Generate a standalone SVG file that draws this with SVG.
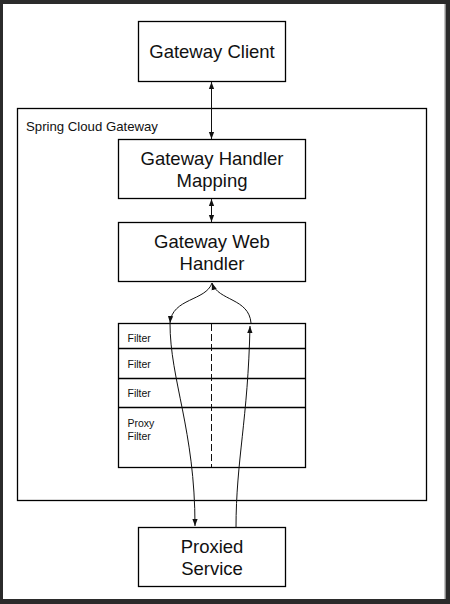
<svg xmlns="http://www.w3.org/2000/svg" width="450" height="604" viewBox="0 0 450 604">
<style>
.box{fill:#fff;stroke:#000;stroke-width:1.3}
.big{font-family:"Liberation Sans",Arial,sans-serif;font-size:18.5px;fill:#111;text-anchor:middle}
.small{font-family:"Liberation Sans",Arial,sans-serif;font-size:10.5px;fill:#111}
.lbl{font-family:"Liberation Sans",Arial,sans-serif;font-size:13.2px;fill:#111}
.ln{fill:none;stroke:#111;stroke-width:1}
</style>
<defs>
<marker id="ah" viewBox="0 0 8 8" refX="8" refY="4" markerWidth="7" markerHeight="7" markerUnits="userSpaceOnUse" orient="auto">
<path d="M0,1 L8,4 L0,7 Z" fill="#111"/>
</marker>
<marker id="ahs" viewBox="0 0 8 8" refX="0" refY="4" markerWidth="7" markerHeight="7" markerUnits="userSpaceOnUse" orient="auto">
<path d="M8,1 L0,4 L8,7 Z" fill="#111"/>
</marker>
</defs>
<rect x="0" y="0" width="450" height="604" fill="#2b2b2b"/>
<rect x="444" y="4" width="2" height="595" fill="#8a8a8a"/>
<rect x="3" y="4" width="441.5" height="595" fill="#fff"/>

<g id="spring-cloud-gateway">
<rect class="box" x="17.5" y="108.5" width="409" height="392"/>
<text class="lbl" x="26" y="131">Spring Cloud Gateway</text>
</g>

<g id="gateway-client">
<rect class="box" x="138.5" y="21.5" width="147" height="60"/>
<text class="big" x="212" y="58">Gateway Client</text>
</g>

<g id="handler-mapping">
<rect class="box" x="118.5" y="139.5" width="187" height="59"/>
<text class="big" x="212" y="165">Gateway Handler</text>
<text class="big" x="212" y="187">Mapping</text>
</g>

<g id="web-handler">
<rect class="box" x="118.5" y="222.5" width="187" height="59"/>
<text class="big" x="212" y="248">Gateway Web</text>
<text class="big" x="212" y="270">Handler</text>
</g>

<g id="filter-chain">
<rect class="box" x="118.5" y="323.5" width="187" height="144"/>
<line class="box" x1="118.5" y1="348.5" x2="305.5" y2="348.5"/>
<line class="box" x1="118.5" y1="378.5" x2="305.5" y2="378.5"/>
<line class="box" x1="118.5" y1="407.5" x2="305.5" y2="407.5"/>
<line x1="211.5" y1="324" x2="211.5" y2="467" stroke="#111" stroke-width="1" stroke-dasharray="7,3"/>
<text class="small" x="127.5" y="342">Filter</text>
<text class="small" x="127.5" y="368">Filter</text>
<text class="small" x="127.5" y="397">Filter</text>
<text class="small" x="127.5" y="427">Proxy</text>
<text class="small" x="127.5" y="440">Filter</text>
</g>

<g id="proxied-service">
<rect class="box" x="138.5" y="527.5" width="147" height="59"/>
<text class="big" x="212" y="553">Proxied</text>
<text class="big" x="212" y="575">Service</text>
</g>

<g id="connectors">
<line class="ln" x1="211.5" y1="82" x2="211.5" y2="139" marker-start="url(#ahs)" marker-end="url(#ah)"/>
<line class="ln" x1="211.5" y1="199" x2="211.5" y2="222" marker-start="url(#ahs)" marker-end="url(#ah)"/>
<path class="ln" d="M212,283 C206,301 172,298 170,323" marker-end="url(#ah)"/>
<path class="ln" d="M251,323 C249,298 218,301 212,283" marker-end="url(#ah)"/>
<path class="ln" d="M170,323 C170,380 195,430 195,526" marker-end="url(#ah)"/>
<path class="ln" d="M236,528 C236,460 248,420 250,326" marker-end="url(#ah)"/>
</g>
</svg>
